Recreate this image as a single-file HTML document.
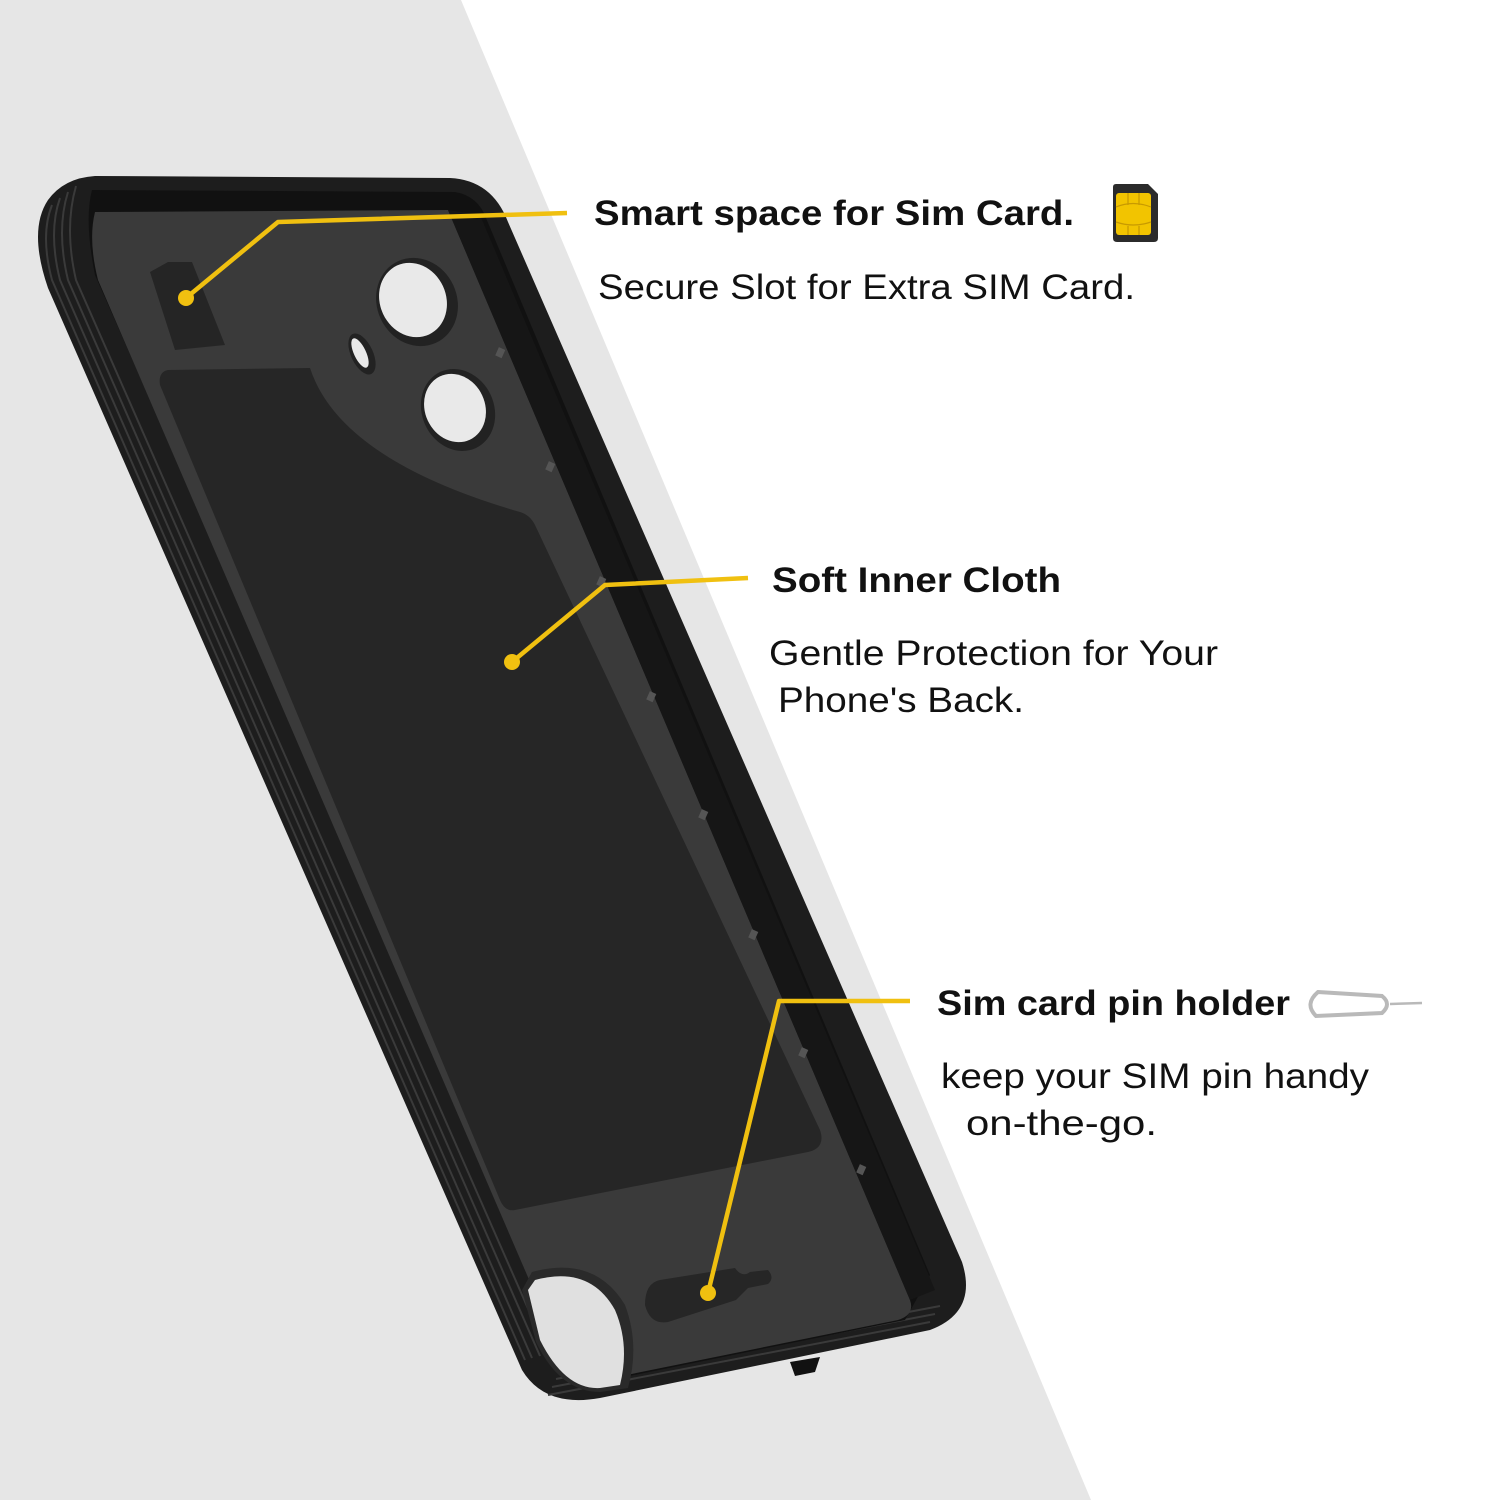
<!DOCTYPE html>
<html><head><meta charset="utf-8"><style>
html,body{margin:0;padding:0;background:#fff;}
svg{display:block;}
.b{font-family:"Liberation Sans",Arial,sans-serif;font-weight:bold;font-size:35px;fill:#111;}
.r{font-family:"Liberation Sans",Arial,sans-serif;font-size:35px;fill:#111;}
</style></head><body>
<svg width="1500" height="1500" viewBox="0 0 1500 1500" xmlns="http://www.w3.org/2000/svg">
<rect width="1500" height="1500" fill="#fff"/>
<polygon points="0,0 461,0 1091,1500 0,1500" fill="#e6e6e6"/>

<path d="M95,176 L450,178 Q492,180 508,222 L962,1262 Q978,1312 930,1330 L600,1398 Q545,1408 522,1370 L48,288 Q28,230 48,200 Q64,178 95,176 Z" fill="#1d1d1d"/>
<g stroke="#3a3a3a" stroke-width="2" fill="none">
<path d="M52,205 Q40,235 52,280 L525,1360"/>
<path d="M60,198 Q48,232 60,280 L532,1358"/>
<path d="M68,192 Q56,230 68,280 L540,1356"/>
<path d="M76,186 Q64,228 76,280 L548,1354"/>
<path d="M548,1395 L930,1322"/>
<path d="M552,1387 L935,1314"/>
<path d="M556,1379 L940,1306"/>
</g>
<path d="M92,190 L455,192 Q478,196 486,218 L930,1275 L905,1320 L585,1385 L95,275 Q84,220 92,190 Z" fill="#111"/>
<path d="M95,212 L448,210 L910,1300 Q915,1315 898,1320 L592,1382 Q575,1385 568,1370 L98,280 Q88,240 95,212 Z" fill="#3a3a3a"/>
<path d="M448,210 L480,215 L935,1290 L910,1300 Z" fill="#161616"/>
<g fill="#555">
<rect x="497" y="348" width="7" height="9" transform="rotate(24 500 352)"/>
<rect x="547" y="462" width="7" height="9" transform="rotate(24 550 466)"/>
<rect x="598" y="577" width="7" height="9" transform="rotate(24 601 581)"/>
<rect x="648" y="692" width="7" height="9" transform="rotate(24 651 696)"/>
<rect x="700" y="810" width="7" height="9" transform="rotate(24 703 814)"/>
<rect x="750" y="930" width="7" height="9" transform="rotate(24 753 934)"/>
<rect x="800" y="1048" width="7" height="9" transform="rotate(24 803 1052)"/>
<rect x="858" y="1165" width="7" height="9" transform="rotate(24 861 1169)"/>
</g>
<path d="M168,370 L310,368 Q340,460 520,512 Q530,515 535,525 L820,1130 Q826,1148 808,1152 L515,1210 Q505,1212 500,1200 L160,385 Q158,372 168,370 Z" fill="#262626"/>
<polygon points="150,272 168,262 192,262 225,345 175,350" fill="#252525"/>
<ellipse cx="417" cy="302" rx="40" ry="45" fill="#222" transform="rotate(-25 417 302)"/>
<ellipse cx="413" cy="300" rx="33" ry="38" fill="#e9e9e9" transform="rotate(-25 413 300)"/>
<ellipse cx="458" cy="410" rx="36" ry="42" fill="#222" transform="rotate(-25 458 410)"/>
<ellipse cx="455" cy="408" rx="30" ry="35" fill="#e9e9e9" transform="rotate(-25 455 408)"/>
<ellipse cx="362" cy="354" rx="11" ry="22" fill="#222" transform="rotate(-25 362 354)"/>
<ellipse cx="360" cy="353" rx="6" ry="16" fill="#e9e9e9" transform="rotate(-25 360 353)"/>
<path d="M660,1280 L735,1268 Q742,1278 750,1272 L768,1270 Q775,1278 768,1284 L748,1288 L736,1300 L668,1322 Q650,1325 645,1305 Q645,1283 660,1280 Z" fill="#262626"/>
<path d="M532,1272 Q595,1255 625,1305 Q640,1345 628,1388 L600,1392 Q560,1392 536,1342 L522,1290 Z" fill="#2a2a2a"/>
<path d="M535,1280 Q590,1265 615,1310 Q630,1345 620,1385 L600,1388 Q565,1390 540,1340 L528,1290 Z" fill="#e0e0e0"/>
<path d="M790,1362 L820,1357 L815,1372 L795,1376 Z" fill="#111"/>

<g stroke="#f0c010" stroke-width="4.5" fill="none" stroke-linejoin="round">
<polyline points="186,298 278,222 567,213"/>
<polyline points="512,662 605,585 748,578"/>
<polyline points="708,1293 779,1001 910,1001"/>
</g>
<g fill="#f0c010">
<circle cx="186" cy="298" r="8"/>
<circle cx="512" cy="662" r="8"/>
<circle cx="708" cy="1293" r="8"/>
</g>

<text class="b" x="594" y="225" textLength="480" lengthAdjust="spacingAndGlyphs">Smart space for Sim Card.</text>
<text class="r" x="598" y="299" textLength="537" lengthAdjust="spacingAndGlyphs">Secure Slot for Extra SIM Card.</text>
<text class="b" x="772" y="592" textLength="289" lengthAdjust="spacingAndGlyphs">Soft Inner Cloth</text>
<text class="r" x="769" y="665" textLength="449" lengthAdjust="spacingAndGlyphs">Gentle Protection for Your</text>
<text class="r" x="778" y="712" textLength="246" lengthAdjust="spacingAndGlyphs">Phone's Back.</text>
<text class="b" x="937" y="1015" textLength="353" lengthAdjust="spacingAndGlyphs">Sim card pin holder</text>
<text class="r" x="941" y="1088" textLength="428" lengthAdjust="spacingAndGlyphs">keep your SIM pin handy</text>
<text class="r" x="966" y="1135" textLength="191" lengthAdjust="spacingAndGlyphs">on-the-go.</text>

<path d="M1116,184 L1148,184 L1158,194 L1158,238 Q1158,242 1154,242 L1117,242 Q1113,242 1113,238 L1113,187 Q1113,184 1116,184 Z" fill="#2b2b2b"/>
<rect x="1116" y="193" width="35" height="42" rx="3" fill="#f2c400"/>
<g stroke="#c89a00" stroke-width="1.2" fill="none">
<path d="M1128,193 L1128,205 M1139,193 L1139,205 M1116,207 Q1133,200 1151,207 M1116,222 Q1133,228 1151,222 M1128,226 L1128,235 M1139,226 L1139,235"/>
</g>
<path d="M1318,992 L1382,996 Q1392,1004 1382,1013 L1316,1016 Q1304,1004 1318,992 Z" fill="none" stroke="#b9b9b9" stroke-width="4"/>
<line x1="1390" y1="1004" x2="1422" y2="1003" stroke="#b9b9b9" stroke-width="2.5"/>
</svg>
</body></html>
